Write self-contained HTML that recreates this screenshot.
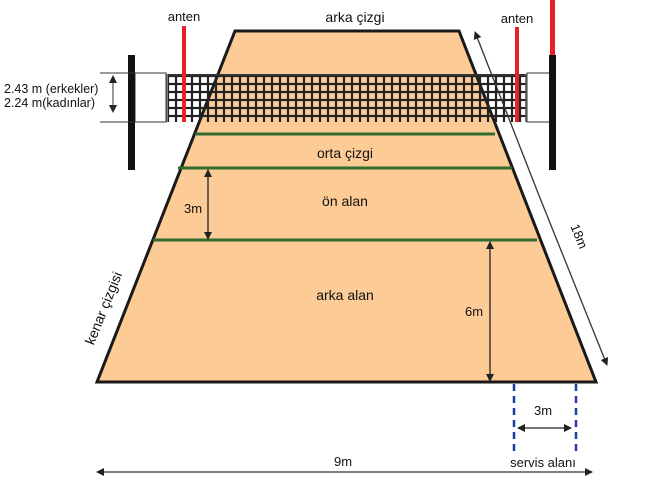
<!DOCTYPE html>
<html><head><meta charset="utf-8"><style>body{margin:0;background:#fff}svg{display:block}text{font-family:"Liberation Sans","DejaVu Sans",sans-serif;fill:#111}</style></head><body>
<svg width="650" height="478" viewBox="0 0 650 478" xmlns="http://www.w3.org/2000/svg">
<defs>
<pattern id="mesh" x="168" y="76" width="8" height="8" patternUnits="userSpaceOnUse">
<rect width="8" height="8" fill="none" stroke="#222" stroke-width="2.2"/>
</pattern>
<marker id="ah" markerWidth="8" markerHeight="8" refX="7" refY="4" orient="auto" markerUnits="userSpaceOnUse"><path d="M0,0 L8,4 L0,8 z" fill="#222"/></marker>
</defs>
<polygon points="235,31 459,31 596,382 97,382" fill="#fdcb96" stroke="#1a1a1a" stroke-width="3"/>
<rect x="135" y="73" width="31" height="49" fill="#fff" stroke="#333" stroke-width="1"/>
<rect x="527" y="73" width="26" height="49" fill="#fff" stroke="#333" stroke-width="1"/>
<rect x="168" y="74" width="358" height="48" fill="url(#mesh)"/>
<line x1="168" y1="75" x2="526" y2="75" stroke="#333" stroke-width="2"/>
<line x1="167" y1="74" x2="167" y2="122" stroke="#555" stroke-width="1.5"/>
<line x1="526" y1="74" x2="526" y2="122" stroke="#555" stroke-width="1.5"/>
<line x1="195" y1="134" x2="495" y2="134" stroke="#2f6b2f" stroke-width="3"/>
<line x1="178" y1="168" x2="512" y2="168" stroke="#2f6b2f" stroke-width="3"/>
<line x1="153" y1="240" x2="537" y2="240" stroke="#2f6b2f" stroke-width="3"/>
<rect x="128" y="55" width="7" height="115" fill="#111"/>
<rect x="549" y="55" width="7" height="115" fill="#111"/>
<rect x="550" y="0" width="5" height="55" fill="#e8202a"/>
<rect x="182" y="26" width="4" height="96" fill="#e8202a"/>
<rect x="515" y="27" width="4" height="95" fill="#e8202a"/>
<line x1="100" y1="73" x2="135" y2="73" stroke="#333"/>
<line x1="100" y1="122" x2="135" y2="122" stroke="#333"/>
<line x1="113" y1="82" x2="113" y2="112" stroke="#333" marker-end="url(#ah)"/>
<line x1="113" y1="112" x2="113" y2="76" stroke="#333" marker-end="url(#ah)"/>
<text x="4" y="93" font-size="12.5">2.43 m (erkekler)</text>
<text x="4" y="107" font-size="12.5">2.24 m(kadınlar)</text>
<line x1="540" y1="198" x2="475" y2="32" stroke="#333" stroke-width="1.3" marker-end="url(#ah)"/>
<line x1="540" y1="198" x2="607" y2="365" stroke="#333" stroke-width="1.3" marker-end="url(#ah)"/>
<text x="575" y="238" font-size="13" transform="rotate(68 575 238)" text-anchor="middle">18m</text>
<line x1="208" y1="200" x2="208" y2="170" stroke="#222" stroke-width="1.3" marker-end="url(#ah)"/>
<line x1="208" y1="200" x2="208" y2="239" stroke="#222" stroke-width="1.3" marker-end="url(#ah)"/>
<line x1="490" y1="300" x2="490" y2="242" stroke="#222" stroke-width="1.3" marker-end="url(#ah)"/>
<line x1="490" y1="300" x2="490" y2="381" stroke="#222" stroke-width="1.3" marker-end="url(#ah)"/>
<line x1="514" y1="384" x2="514" y2="454" stroke="#1f3fa0" stroke-width="2.5" stroke-dasharray="7,5"/>
<line x1="576" y1="384" x2="576" y2="454" stroke="#1f3fa0" stroke-width="2.5" stroke-dasharray="7,5"/>
<line x1="545" y1="428" x2="518" y2="428" stroke="#222" stroke-width="1.3" marker-end="url(#ah)"/>
<line x1="545" y1="428" x2="571" y2="428" stroke="#222" stroke-width="1.3" marker-end="url(#ah)"/>
<line x1="345" y1="472" x2="97" y2="472" stroke="#333" stroke-width="1.3" marker-end="url(#ah)"/>
<line x1="345" y1="472" x2="592" y2="472" stroke="#333" stroke-width="1.3" marker-end="url(#ah)"/>
<text x="355" y="22" font-size="14" text-anchor="middle">arka çizgi</text>
<text x="184" y="21" font-size="13" text-anchor="middle">anten</text>
<text x="517" y="23" font-size="13" text-anchor="middle">anten</text>
<text x="345" y="158" font-size="14" text-anchor="middle">orta çizgi</text>
<text x="345" y="206" font-size="14" text-anchor="middle">ön alan</text>
<text x="345" y="300" font-size="14" text-anchor="middle">arka alan</text>
<text x="193" y="213" font-size="13" text-anchor="middle">3m</text>
<text x="474" y="316" font-size="13" text-anchor="middle">6m</text>
<text x="543" y="415" font-size="13" text-anchor="middle">3m</text>
<text x="543" y="467" font-size="13" text-anchor="middle">servis alanı</text>
<text x="343" y="466" font-size="13" text-anchor="middle">9m</text>
<text x="108" y="310" font-size="14" text-anchor="middle" transform="rotate(-68 108 310)">kenar çizgisi</text>
</svg>
</body></html>
